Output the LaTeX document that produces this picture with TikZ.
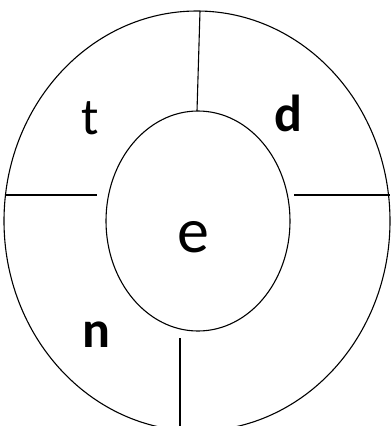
\documentclass[tikz,border=0pt]{standalone}
\usepackage{fontspec}
\setmainfont{Carlito}
\usepackage{tikz}

\tikzset{
    ring/.style={line width=1.1pt},
    letter/.style={anchor=base, inner sep=0pt, font=\fontsize{52}{52}\selectfont},
    bigletter/.style={letter, font=\fontsize{64}{64}\selectfont}
}

\begin{document}
\begin{tikzpicture}[x=1pt, y=-1pt]
    \useasboundingbox (0,0) rectangle (391,426);

    % anelli
    \begin{scope}
        \clip (0,0) rectangle (391,426);
        \draw[ring] (197,221) ellipse[x radius=193, y radius=210];
    \end{scope}
    \draw[ring] (198,221) ellipse[x radius=92, y radius=110];

    % divisori
    \coordinate (topout) at (200,11);
    \coordinate (topin) at (197,111);
    \coordinate (leftout) at (5,195);
    \coordinate (leftin) at (97,195);
    \coordinate (rightin) at (294,195);
    \coordinate (rightout) at (390,195);
    \coordinate (botin) at (180,338);
    \coordinate (botout) at (180,426);
    \draw[ring] (topout) -- (topin);
    \draw[ring] (leftout) -- (leftin);
    \draw[ring] (rightin) -- (rightout);
    \draw[ring] (botin) -- (botout);

    % lettere
    \node[letter] (t) at (90.5,134) {t};
    \node[letter] (d) at (288,131.5) {\bfseries d};
    \node[bigletter] (e) at (193.5,252) {e};
    \node[letter] (n) at (96.5,347.5) {\bfseries n};
\end{tikzpicture}
\end{document}
